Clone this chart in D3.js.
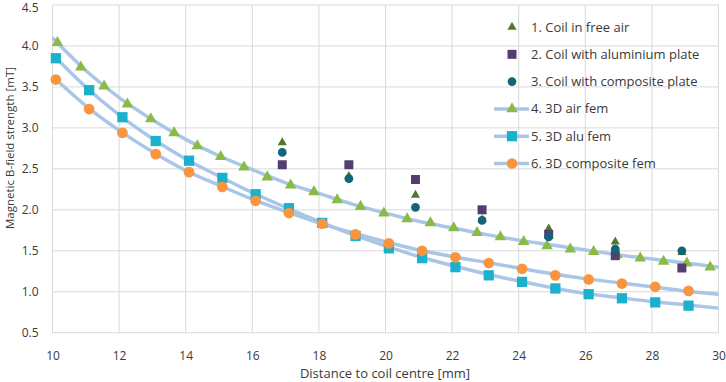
<!DOCTYPE html>
<html>
<head>
<meta charset="utf-8">
<script src="https://cdn.jsdelivr.net/npm/d3@7"></script>
<style>
  body { margin: 0; background: #fff; }
  svg { display: block; font-family: "Open Sans", sans-serif; }
</style>
</head>
<body>
<svg width="726" height="382"></svg>
<script>
// FEM points (air fem every ~0.7 mm, alu/composite every 1 mm)
var airX = [10.15, 10.85, 11.55, 12.25, 12.95, 13.65, 14.35, 15.05, 15.75, 16.45, 17.15, 17.85, 18.55, 19.25,
  19.95, 20.65, 21.35, 22.05, 22.75, 23.45, 24.15, 24.85, 25.55, 26.25, 26.95, 27.65, 28.35, 29.05, 29.75]
var airFem = [4.04, 3.74, 3.51, 3.29, 3.11, 2.94, 2.78, 2.65, 2.52, 2.40, 2.30, 2.22, 2.12, 2.04,
  1.96, 1.89, 1.84, 1.78, 1.72, 1.67, 1.61, 1.56, 1.52, 1.49, 1.45, 1.41, 1.37, 1.35, 1.30]

var femX = [10.1, 11.1, 12.1, 13.1, 14.1, 15.1, 16.1, 17.1, 18.1, 19.1,
  20.1, 21.1, 22.1, 23.1, 24.1, 25.1, 26.1, 27.1, 28.1, 29.1]
var aluFem = [3.85, 3.46, 3.13, 2.84, 2.60, 2.39, 2.19, 2.02, 1.84, 1.68,
  1.53, 1.41, 1.30, 1.20, 1.12, 1.04, 0.97, 0.92, 0.87, 0.83]
var compFem = [3.59, 3.23, 2.94, 2.68, 2.46, 2.28, 2.11, 1.96, 1.83, 1.70,
  1.59, 1.50, 1.42, 1.35, 1.28, 1.20, 1.15, 1.10, 1.06, 1.01]

// trend lines drawn behind the fem points
var fitX = [10, 11, 12, 13, 14, 15, 16, 17, 18, 19, 20, 21, 22, 23, 24, 25, 26, 27, 28, 29, 30]
var airFit = [4.10, 3.70, 3.37, 3.10, 2.86, 2.66, 2.49, 2.33, 2.20, 2.07, 1.96, 1.86, 1.78, 1.70, 1.63, 1.57, 1.51, 1.45, 1.40, 1.35, 1.30]
var aluFit = [3.90, 3.50, 3.16, 2.87, 2.62, 2.41, 2.21, 2.03, 1.86, 1.70, 1.56, 1.43, 1.32, 1.22, 1.13, 1.05, 0.98, 0.93, 0.88, 0.84, 0.80]
var compFit = [3.63, 3.27, 2.97, 2.71, 2.48, 2.30, 2.13, 1.98, 1.84, 1.72, 1.61, 1.51, 1.43, 1.36, 1.29, 1.22, 1.16, 1.11, 1.06, 1.01, 0.97]

// measurements
var measX = [16.9, 18.9, 20.9, 22.9, 24.9, 26.9, 28.9]
var measAir = [2.82, 2.41, 2.18, 1.88, 1.77, 1.61, 1.48]
var measAlu = [2.55, 2.55, 2.37, 2.00, 1.70, 1.44, 1.29]
var measComp = [2.70, 2.38, 2.03, 1.87, 1.67, 1.52, 1.50]

var xTicks = [10, 12, 14, 16, 18, 20, 22, 24, 26, 28, 30]
var yTicks = [0.5, 1.0, 1.5, 2.0, 2.5, 3.0, 3.5, 4.0, 4.5]

var legendLabels = ["1. Coil in free air", "2. Coil with aluminium plate", "3. Coil with composite plate",
  "4. 3D air fem", "5. 3D alu fem", "6. 3D composite fem"]

var svg = d3.select('svg')
var plotLeft = 52.5, plotRight = 718.5, plotTop = 5, plotBottom = 332.7

var x = d3.scaleLinear().domain([10, 30]).range([plotLeft, plotRight])
var y = d3.scaleLinear().domain([0.5, 4.5]).range([plotBottom, plotTop])

// grid
var grid = svg.append('g').attr('stroke', '#d9d9d9').attr('stroke-width', 1)
grid.selectAll('.vx').data(xTicks).enter().append('line')
  .attr('x1', function (d) { return x(d) }).attr('x2', function (d) { return x(d) })
  .attr('y1', plotTop).attr('y2', plotBottom)
grid.selectAll('.hy').data(yTicks).enter().append('line')
  .attr('y1', function (d) { return y(d) }).attr('y2', function (d) { return y(d) })
  .attr('x1', plotLeft).attr('x2', plotRight)

// axes labels via d3 axes, without domain/ticks
svg.append('g').attr('transform', 'translate(0,' + plotBottom + ')')
  .call(d3.axisBottom(x).tickValues(xTicks).tickSize(0).tickPadding(19).tickFormat(d3.format('d')))
var yAxis = svg.append('g').attr('transform', 'translate(' + plotLeft + ',0)')
  .call(d3.axisLeft(y).tickValues(yTicks).tickSize(0).tickPadding(14).tickFormat(d3.format('.1f')))
svg.selectAll('.domain').remove()
svg.selectAll('.tick text').attr('font-size', 12).attr('fill', '#3a3a3a')
  .attr('font-family', '"Open Sans", sans-serif')
// top label sits a little lower so it is not cut by the edge
yAxis.selectAll('.tick text').filter(function (d) { return d === 4.5 }).attr('dy', '0.5em')

svg.append('text').text('Distance to coil centre [mm]')
  .attr('x', 385).attr('y', 378).attr('text-anchor', 'middle')
  .attr('font-size', 13).attr('fill', '#3a3a3a')
svg.append('text').text('Magnetic B-field strength [mT]')
  .attr('transform', 'translate(14,148) rotate(-90)')
  .attr('text-anchor', 'middle').attr('font-size', 11.5).attr('fill', '#3a3a3a')

// trend lines
var lineColor = '#aac6e6'
var line = d3.line().x(function (d) { return x(d[0]) }).y(function (d) { return y(d[1]) }).curve(d3.curveMonotoneX)
;[airFit, aluFit, compFit].forEach(function (vals) {
  svg.append('path').datum(d3.zip(fitX, vals))
    .attr('d', line).attr('fill', 'none').attr('stroke', lineColor).attr('stroke-width', 3.5)
})

function drawPoints(xs, vals, s) {
  svg.append('g').selectAll('path').data(d3.zip(xs, vals)).enter().append('path')
    .attr('d', d3.symbol().type(s.type).size(s.size))
    .attr('transform', function (d) { return 'translate(' + x(d[0]) + ',' + y(d[1]) + ')' })
    .attr('fill', s.color)
}

var series = [
  { type: d3.symbolTriangle, size: 36, color: '#4f7a28' },
  { type: d3.symbolSquare, size: 81, color: '#553d70' },
  { type: d3.symbolCircle, size: 60, color: '#10657a' },
  { type: d3.symbolTriangle, size: 58, color: '#8bbb46' },
  { type: d3.symbolSquare, size: 105, color: '#1bb0cb' },
  { type: d3.symbolCircle, size: 90, color: '#f8953e' }
]

drawPoints(airX, airFem, series[3])
drawPoints(femX, aluFem, series[4])
drawPoints(femX, compFem, series[5])
drawPoints(measX, measAir, series[0])
drawPoints(measX, measAlu, series[1])
drawPoints(measX, measComp, series[2])

// legend
var legend = svg.append('g').attr('transform', 'translate(512,27)')
var rows = legend.selectAll('g').data(legendLabels).enter().append('g')
  .attr('transform', function (d, i) { return 'translate(0,' + (i * 27.3) + ')' })
rows.filter(function (d, i) { return i >= 3 }).append('line')
  .attr('x1', -18).attr('x2', 17).attr('stroke', lineColor).attr('stroke-width', 3.5)
rows.append('path')
  .attr('d', function (d, i) { return d3.symbol().type(series[i].type).size(series[i].size)() })
  .attr('fill', function (d, i) { return series[i].color })
rows.append('text').text(function (d) { return d })
  .attr('x', 19).attr('dy', '0.35em').attr('font-size', 13).attr('fill', '#3a3a3a')
</script>
</body>
</html>
